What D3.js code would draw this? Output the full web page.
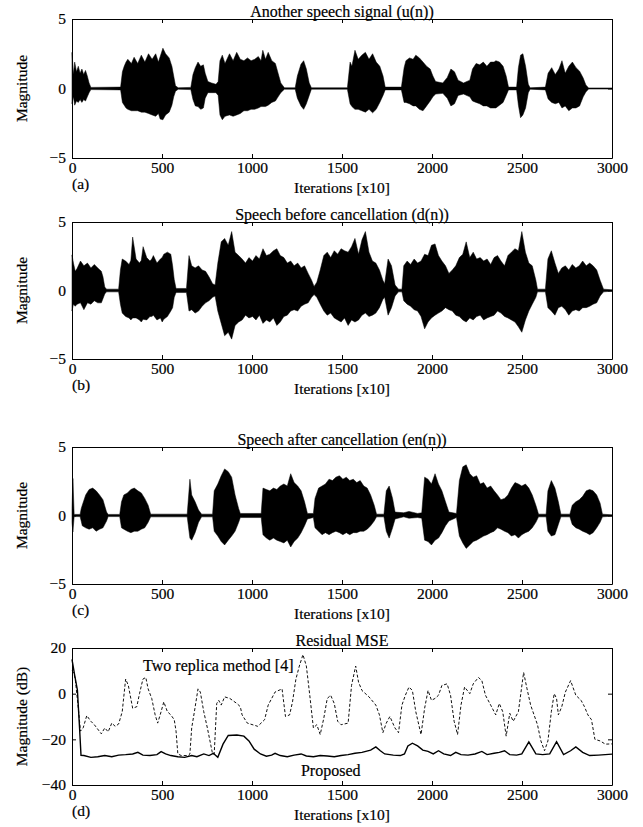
<!DOCTYPE html>
<html><head><meta charset="utf-8">
<script src="https://cdn.jsdelivr.net/npm/d3@7"></script>
<style>
body{margin:0;background:#fff}
</style></head><body>
<svg id="c" width="643" height="827"></svg>
<script>
// ---------- data ----------
const xTicks = [0, 500, 1000, 1500, 2000, 2500, 3000];
const sigTicks = [-5, 0, 5];
const mseTicks = [-40, -20, 0, 20];

// speech envelopes: [iteration/10, upper, lower]
const uEnvelope = [[0,2.6,-1.1],[8,1.0,-0.6],[15,1.9,-1.2],[25,1.2,-0.9],[35,1.6,-1.0],[45,1.1,-0.8],[55,1.4,-1.0],[65,1.0,-0.8],[75,1.3,-0.9],[85,0.9,-0.6],[95,0.4,-0.3],[105,0.08,-0.08],[270,0.1,-0.1],[280,1.2,-1.0],[290,1.6,-1.2],[300,1.9,-1.4],[310,2.1,-1.5],[330,1.8,-1.6],[345,2.25,-1.6],[365,1.8,-1.6],[385,2.4,-1.7],[405,1.9,-1.7],[425,2.5,-1.8],[445,2.1,-1.9],[465,2.5,-2.0],[480,1.9,-1.8],[490,2.3,-2.2],[505,2.9,-2.25],[520,2.5,-1.9],[540,2.2,-1.7],[555,1.6,-1.2],[565,0.9,-0.6],[575,0.2,-0.2],[590,0.05,-0.05],[660,0.08,-0.08],[672,1.0,-0.8],[685,1.5,-1.25],[700,1.9,-1.3],[715,1.6,-1.5],[730,1.7,-1.4],[740,1.1,-0.7],[755,0.5,-0.3],[775,0.4,-0.3],[800,0.3,-0.3],[812,0.5,-0.5],[822,2.0,-1.9],[835,2.4,-2.25],[850,1.8,-2.0],[875,2.5,-1.9],[895,2.0,-2.0],[915,2.6,-1.9],[935,2.1,-1.8],[955,2.0,-1.6],[975,2.2,-1.6],[995,2.0,-1.5],[1015,2.1,-1.5],[1035,2.3,-1.4],[1050,2.0,-1.3],[1060,2.75,-1.3],[1075,2.1,-1.3],[1090,2.6,-1.2],[1110,2.0,-1.0],[1130,1.8,-0.9],[1145,1.1,-0.6],[1160,0.4,-0.3],[1180,0.05,-0.05],[1240,0.05,-0.05],[1252,0.9,-0.7],[1272,1.75,-1.25],[1287,2.0,-1.5],[1302,1.4,-1.1],[1318,0.4,-0.5],[1330,0.05,-0.05],[1530,0.05,-0.05],[1545,1.9,-1.1],[1555,1.6,-1.3],[1572,2.75,-1.5],[1590,2.1,-1.5],[1610,2.4,-1.6],[1630,2.6,-1.7],[1650,2.1,-1.5],[1670,2.5,-1.75],[1690,1.9,-1.5],[1710,1.6,-1.0],[1728,0.9,-0.5],[1740,0.1,-0.1],[1830,0.1,-0.1],[1845,1.5,-1.0],[1855,2.0,-1.0],[1875,2.2,-1.1],[1895,2.1,-1.25],[1910,2.4,-1.25],[1930,2.2,-1.5],[1950,1.9,-1.6],[1970,1.6,-1.25],[1990,1.4,-0.9],[2005,0.9,-0.6],[2020,0.5,-0.4],[2060,0.4,-0.35],[2085,0.8,-0.7],[2105,1.4,-1.25],[2125,1.2,-1.1],[2145,0.6,-0.5],[2175,0.4,-0.4],[2210,0.6,-0.6],[2225,1.4,-0.9],[2245,1.8,-1.0],[2265,1.7,-1.1],[2285,1.9,-1.25],[2305,1.6,-1.25],[2325,1.9,-1.4],[2345,1.9,-1.4],[2355,2.0,-1.4],[2375,1.9,-1.2],[2395,1.6,-1.0],[2412,0.9,-0.5],[2425,0.1,-0.1],[2470,0.1,-0.1],[2480,1.5,-1.2],[2492,2.4,-2.1],[2505,2.5,-1.9],[2520,1.6,-1.4],[2535,0.3,-0.3],[2545,0.05,-0.05],[2630,0.1,-0.1],[2645,1.1,-0.75],[2665,1.5,-1.0],[2685,1.0,-1.1],[2705,1.4,-1.0],[2722,2.0,-1.4],[2740,1.1,-1.25],[2760,1.6,-1.6],[2780,1.9,-1.4],[2800,1.5,-1.4],[2820,1.25,-1.25],[2840,0.75,-0.6],[2855,0.25,-0.25],[2870,0.04,-0.04],[3000,0.04,-0.04]];

const dEnvelope = [[0,2.6,-1.5],[8,2.0,-1.0],[18,1.4,-1.15],[28,1.6,-1.0],[47,2.15,-0.9],[66,1.8,-1.4],[86,2.0,-0.9],[105,1.65,-1.0],[124,1.9,-0.75],[143,1.65,-0.9],[163,1.4,-0.9],[172,1.0,-0.6],[182,0.25,-0.25],[192,0.1,-0.1],[259,0.1,-0.1],[269,1.5,-1.0],[279,2.3,-1.65],[298,2.15,-1.9],[317,1.9,-2.0],[327,2.2,-2.15],[337,3.9,-2.0],[356,2.3,-2.0],[375,2.0,-2.15],[385,2.2,-2.3],[395,3.2,-2.1],[415,2.4,-2.15],[433,2.15,-1.9],[443,2.3,-1.9],[452,2.55,-1.8],[472,2.0,-2.15],[491,2.3,-2.0],[501,2.4,-2.3],[510,2.65,-2.1],[530,2.8,-1.9],[549,2.65,-1.5],[559,1.8,-1.25],[568,0.8,-0.5],[578,0.15,-0.15],[636,0.15,-0.15],[650,2.55,-1.5],[665,1.8,-1.4],[684,1.65,-1.65],[703,1.8,-1.5],[723,1.5,-1.15],[742,1.4,-0.9],[761,1.0,-0.75],[781,0.5,-0.5],[795,0.4,-0.4],[810,2.0,-1.5],[829,3.55,-2.4],[848,3.8,-3.3],[868,3.3,-3.05],[887,4.3,-3.55],[906,2.8,-2.55],[926,2.55,-2.3],[945,2.3,-2.15],[964,2.0,-1.8],[983,2.4,-2.0],[1003,2.15,-1.9],[1022,2.55,-2.15],[1041,2.3,-1.8],[1061,3.05,-2.4],[1080,2.55,-2.15],[1099,2.65,-2.3],[1119,2.9,-2.0],[1138,3.05,-2.55],[1157,2.55,-2.3],[1177,2.4,-1.9],[1196,2.0,-1.8],[1215,2.15,-1.5],[1234,1.8,-1.4],[1254,2.0,-1.5],[1273,1.65,-1.15],[1292,1.8,-1.0],[1312,1.25,-0.9],[1331,0.75,-0.5],[1345,0.3,-0.3],[1360,0.6,-0.5],[1379,1.5,-1.0],[1399,2.55,-1.5],[1418,2.8,-1.8],[1437,2.4,-1.65],[1457,2.9,-2.0],[1476,2.65,-2.15],[1495,3.05,-2.3],[1514,2.9,-2.0],[1534,2.8,-2.55],[1553,3.2,-2.15],[1572,3.8,-2.3],[1592,2.65,-2.15],[1611,3.7,-1.8],[1630,4.3,-1.65],[1650,2.8,-1.9],[1669,2.15,-1.8],[1688,2.0,-1.65],[1708,1.5,-1.25],[1727,0.75,-0.65],[1737,0.5,-0.5],[1756,2.3,-1.8],[1775,1.8,-1.25],[1795,0.4,-0.4],[1814,0.1,-0.1],[1833,0.1,-0.1],[1843,1.8,-0.75],[1862,2.15,-1.0],[1881,1.9,-1.15],[1901,2.3,-1.4],[1920,2.0,-1.5],[1939,2.15,-1.9],[1959,2.65,-2.8],[1978,2.55,-2.3],[1997,3.3,-2.0],[2017,3.4,-1.8],[2036,2.55,-1.65],[2055,2.15,-1.5],[2075,1.8,-1.25],[2094,1.25,-1.4],[2113,1.5,-1.5],[2132,1.8,-1.8],[2152,2.4,-1.9],[2171,2.65,-2.15],[2190,3.55,-2.3],[2210,2.4,-2.0],[2229,2.8,-2.15],[2248,2.3,-1.9],[2268,2.4,-1.8],[2287,2.15,-2.15],[2306,2.3,-2.0],[2326,1.9,-1.9],[2345,2.4,-1.8],[2364,2.55,-1.5],[2383,2.15,-1.65],[2403,1.8,-1.9],[2422,2.55,-2.0],[2441,2.8,-2.15],[2461,3.05,-2.3],[2480,2.9,-2.65],[2499,4.3,-3.05],[2519,2.8,-2.15],[2538,2.0,-1.5],[2557,1.8,-1.0],[2577,0.75,-0.5],[2586,0.1,-0.1],[2630,0.1,-0.1],[2644,2.3,-1.25],[2663,2.9,-1.5],[2683,2.0,-1.8],[2702,1.25,-1.25],[2721,1.65,-1.15],[2741,1.8,-1.4],[2760,1.5,-1.8],[2779,1.9,-1.5],[2799,1.65,-1.4],[2818,1.8,-1.5],[2837,2.15,-1.25],[2857,1.8,-1.25],[2876,2.0,-1.15],[2895,1.8,-1.0],[2915,1.5,-0.9],[2934,0.75,-0.4],[2953,0.1,-0.1],[3000,0.05,-0.05]];

const enEnvelope = [[0,0.5,-0.5],[5,2.7,-1.2],[12,0.08,-0.08],[45,0.08,-0.08],[51,0.5,-0.4],[57,0.75,-0.75],[76,1.5,-0.9],[95,1.9,-1.0],[115,2.0,-0.9],[134,1.8,-1.15],[153,1.5,-1.0],[172,1.15,-0.9],[192,0.25,-0.4],[201,0.08,-0.08],[265,0.08,-0.08],[275,1.0,-0.9],[288,1.5,-1.0],[308,1.65,-1.15],[327,1.9,-1.25],[346,2.0,-1.15],[366,1.8,-1.15],[385,1.65,-1.0],[404,1.25,-0.9],[423,0.75,-0.5],[437,0.1,-0.1],[640,0.1,-0.1],[655,2.65,-1.65],[665,1.5,-1.8],[684,1.0,-1.25],[703,0.4,-0.5],[720,0.1,-0.1],[781,0.1,-0.1],[790,1.8,-1.15],[810,2.3,-1.5],[829,2.9,-1.9],[848,3.4,-2.15],[868,3.2,-1.8],[887,2.8,-1.5],[906,1.5,-1.15],[926,0.5,-0.5],[935,0.15,-0.15],[1051,0.15,-0.15],[1061,2.0,-1.4],[1080,1.9,-1.65],[1099,1.8,-1.8],[1119,2.0,-1.65],[1138,1.9,-1.8],[1157,2.15,-1.9],[1177,2.3,-2.0],[1196,2.15,-1.8],[1215,3.05,-2.3],[1234,2.4,-1.9],[1254,2.15,-1.65],[1273,1.8,-1.25],[1292,1.0,-0.75],[1308,0.15,-0.25],[1341,0.15,-0.15],[1350,1.25,-0.9],[1370,2.0,-1.15],[1389,2.15,-1.4],[1408,2.3,-1.25],[1428,2.65,-1.4],[1447,2.55,-1.25],[1466,2.8,-1.15],[1486,2.9,-1.25],[1505,2.65,-1.4],[1524,2.8,-1.25],[1543,2.55,-1.4],[1563,2.65,-1.25],[1582,2.4,-1.25],[1601,2.55,-1.15],[1621,2.15,-1.15],[1640,2.0,-1.0],[1659,1.5,-0.75],[1679,0.75,-0.4],[1692,0.1,-0.1],[1733,0.1,-0.1],[1746,1.8,-1.15],[1762,2.15,-1.65],[1781,1.25,-0.9],[1795,0.25,-0.25],[1843,0.2,-0.1],[1872,0.3,-0.2],[1920,0.15,-0.15],[1943,0.2,-0.2],[1959,2.8,-1.8],[1978,2.65,-1.9],[1997,2.3,-2.15],[2017,3.05,-1.8],[2036,2.3,-1.65],[2055,1.8,-1.25],[2075,1.0,-0.75],[2094,0.25,-0.4],[2136,0.15,-0.15],[2152,2.55,-1.5],[2171,3.55,-2.0],[2190,3.7,-2.4],[2210,3.05,-2.15],[2229,2.8,-1.9],[2248,2.9,-1.8],[2268,2.3,-1.65],[2287,2.4,-1.5],[2306,2.0,-1.4],[2326,2.15,-1.25],[2345,1.8,-1.15],[2364,1.5,-0.9],[2383,1.15,-1.0],[2403,1.25,-1.15],[2422,1.5,-1.25],[2441,2.0,-1.5],[2461,2.4,-1.4],[2480,2.3,-1.65],[2499,2.15,-1.4],[2519,2.3,-1.25],[2538,2.0,-1.15],[2557,1.5,-0.9],[2577,0.75,-0.5],[2592,0.1,-0.1],[2634,0.1,-0.1],[2644,1.8,-1.15],[2663,2.55,-1.5],[2683,2.0,-1.4],[2702,1.0,-0.65],[2716,0.1,-0.1],[2766,0.1,-0.1],[2779,0.75,-0.65],[2799,1.0,-0.9],[2818,1.15,-1.0],[2837,1.4,-1.15],[2857,1.8,-1.25],[2876,1.9,-1.4],[2895,1.8,-1.25],[2915,1.5,-0.9],[2934,0.9,-0.5],[2947,0.1,-0.1],[3000,0.05,-0.05]];

// residual MSE in dB: [iteration/10, dB]
const twoReplicaMSE = [[0,10],[10,9],[18,6.5],[37,-7.9],[47,-16.4],[62,-15],[82,-9.6],[105,-12.1],[124,-13.6],[163,-17.6],[182,-15],[201,-16.7],[221,-12.9],[240,-14.3],[259,-13.3],[279,-7.9],[298,6.4],[313,3.6],[337,-6.4],[360,-5.7],[375,0],[394,6.4],[410,7.1],[423,2.1],[443,-2.1],[462,-9.3],[476,-12.9],[495,-7.9],[510,-3.6],[530,-7.9],[549,-9.3],[568,-11.4],[578,-16.4],[588,-26.4],[607,-27.1],[646,-27.1],[655,-26.4],[665,-15],[680,-7.9],[700,2.1],[713,0.7],[732,-7.9],[752,-15],[781,-26.4],[790,-26.4],[804,-4.3],[815,-2.9],[829,-5],[848,-1.4],[877,-2.1],[916,-4.3],[935,-5.7],[945,-9.3],[974,-12.9],[1032,-14.3],[1070,-11.4],[1090,-5],[1128,0.7],[1167,2.1],[1186,-10],[1209,-9.3],[1225,-3.6],[1244,6.4],[1263,12.1],[1283,17.1],[1302,12.1],[1321,-0.7],[1341,-15],[1360,-13.6],[1379,-17.9],[1399,-10.7],[1418,-2.1],[1437,-0.7],[1457,-4.3],[1476,-12.1],[1495,-13.6],[1534,-12.9],[1553,3.6],[1576,12.1],[1592,5],[1611,1.4],[1650,-1.4],[1688,-5],[1708,-9.3],[1727,-17.1],[1746,-12.9],[1766,-10],[1794,-15],[1814,-17.1],[1833,-5],[1852,-0.7],[1872,2.9],[1891,1.4],[1910,-7.9],[1939,-17.9],[1959,-6.4],[1978,1.4],[1997,-2.9],[2017,-2.1],[2036,-0.7],[2055,3.6],[2084,4.3],[2103,-0.7],[2123,-12.1],[2142,-17.9],[2161,-5],[2181,2.9],[2210,0],[2229,4.3],[2258,7.1],[2277,5.7],[2297,-0.7],[2326,-5],[2354,-9.3],[2374,-4.3],[2393,-7.9],[2412,-18.6],[2432,-8.6],[2451,-12.1],[2480,-7.9],[2509,9.3],[2528,2.1],[2548,-5],[2567,-9.3],[2586,-13.6],[2605,-20.7],[2625,-25],[2644,-20.7],[2663,-7.9],[2679,0],[2692,-2.1],[2702,-9.3],[2721,-5.7],[2741,0.7],[2770,5.7],[2799,-0.7],[2828,-2.9],[2847,-5.7],[2866,-9.3],[2886,-11.4],[2905,-20],[2934,-20.7],[2963,-22.1],[3000,-22]];

const proposedMSE = [[0,15],[15,8],[30,1.6],[42,-15],[50,-27],[66,-27.1],[105,-27.9],[143,-27.6],[182,-27.1],[221,-27.6],[259,-26.9],[298,-26.7],[337,-26.4],[366,-25.7],[394,-26.9],[433,-27.1],[472,-26.7],[495,-25.4],[520,-26.4],[549,-27.1],[588,-27.6],[626,-27.9],[665,-27.1],[694,-27.6],[732,-26.4],[761,-27.1],[785,-26.1],[810,-27.9],[839,-22.1],[868,-18.3],[916,-18.1],[955,-18.6],[983,-20.7],[1012,-24.3],[1047,-26.4],[1080,-27.4],[1109,-26.9],[1128,-26.1],[1157,-27.1],[1196,-27.6],[1234,-26.9],[1273,-26.4],[1302,-27.3],[1341,-27.6],[1379,-27.1],[1418,-27.3],[1457,-27.6],[1495,-27.1],[1534,-26.7],[1572,-26.1],[1611,-25.7],[1659,-24.7],[1688,-23.3],[1713,-25],[1737,-26.4],[1785,-26.9],[1824,-27.1],[1847,-26.4],[1866,-22.9],[1891,-21.7],[1920,-22.9],[1949,-24.7],[1978,-25.3],[2007,-26.4],[2036,-25],[2065,-26.4],[2103,-27.1],[2132,-25.7],[2161,-26.7],[2200,-26.9],[2239,-26.4],[2277,-25.3],[2306,-26.7],[2345,-26.1],[2374,-25.7],[2403,-25],[2432,-26.7],[2470,-26.9],[2499,-26.4],[2538,-21.1],[2577,-26.4],[2615,-26.7],[2654,-26.4],[2692,-21],[2731,-26.7],[2770,-25],[2799,-23.3],[2837,-25.7],[2876,-27.1],[2924,-26.9],[3000,-26.5]];

// ---------- layout ----------
const L = 72, R = 612, FS = 15.5, FT = 16;
const FONT = "'Liberation Serif','Times New Roman',serif";
const panels = [
  {top:19, bottom:158, title:"Another speech signal (u(n))", tag:"(a)", ylab:"Magnitude", env:uEnvelope},
  {top:222, bottom:359, title:"Speech before cancellation (d(n))", tag:"(b)", ylab:"Magnitude", env:dEnvelope},
  {top:447, bottom:584, title:"Speech after cancellation (en(n))", tag:"(c)", ylab:"Magnitude", env:enEnvelope},
  {top:648, bottom:785, title:"Residual MSE", tag:"(d)", ylab:"Magnitude (dB)", mse:true}
];

const svg = d3.select("#c");
const x = d3.scaleLinear().domain([0,3000]).range([L,R]);
const txt = (sel, size) => sel.attr("font-family", FONT).attr("font-size", size)
  .attr("fill","#000").attr("stroke","#000").attr("stroke-width",0.2);

panels.forEach(p => {
  const y = d3.scaleLinear().domain(p.mse ? [-40,20] : [-5,5]).range([p.bottom,p.top]);
  const yT = p.mse ? mseTicks : sigTicks;
  const g = svg.append("g");

  if (!p.mse) {
    const area = d3.area().x(d=>x(d[0])).y0(d=>y(d[2])).y1(d=>y(d[1]));
    g.append("path").datum(p.env).attr("d", area).attr("fill","#000").attr("stroke","#000").attr("stroke-width",0.5);
  } else {
    const line = d3.line().x(d=>x(d[0])).y(d=>y(d[1]));
    g.append("path").datum(twoReplicaMSE).attr("d", line).attr("fill","none")
      .attr("stroke","#111").attr("stroke-width",1).attr("stroke-dasharray","3,2");
    g.append("path").datum(proposedMSE).attr("d", line).attr("fill","none")
      .attr("stroke","#000").attr("stroke-width",1.4);
    g.append("text").attr("x", x(395)).attr("y", y(10)).call(txt, FT).text("Two replica method [4]");
    g.append("text").attr("x", x(1272)).attr("y", y(-36)).call(txt, FT).text("Proposed");
  }

  const styleAxis = sel => { sel.attr("font-family",FONT).attr("font-size",FS);
    sel.select(".domain").attr("stroke","#000");
    sel.selectAll(".tick line").attr("stroke","#000");
    sel.selectAll(".tick text").attr("fill","#000").attr("stroke","#000").attr("stroke-width",0.2); };
  g.append("g").attr("transform",`translate(0,${p.bottom})`)
    .call(d3.axisBottom(x).tickValues(xTicks).tickSize(-4).tickSizeOuter(0).tickPadding(4).tickFormat(d3.format("d")))
    .call(styleAxis);
  g.append("g").attr("transform",`translate(0,${p.top})`)
    .call(d3.axisTop(x).tickValues(xTicks).tickSize(-4).tickSizeOuter(0).tickFormat(""))
    .call(styleAxis);
  g.append("g").attr("transform",`translate(${L},0)`)
    .call(d3.axisLeft(y).tickValues(yT).tickSize(-4).tickSizeOuter(0).tickPadding(6).tickFormat(d3.format("d")))
    .call(styleAxis);
  g.append("g").attr("transform",`translate(${R},0)`)
    .call(d3.axisRight(y).tickValues(yT).tickSize(-4).tickSizeOuter(0).tickFormat(""))
    .call(styleAxis);

  g.append("text").attr("x",(L+R)/2).attr("y",p.top-2).attr("text-anchor","middle").call(txt, FT).text(p.title);
  g.append("text").attr("x",(L+R)/2).attr("y",p.bottom+35).attr("text-anchor","middle").call(txt, FS).text("Iterations [x10]");
  g.append("text").attr("x",L).attr("y",p.bottom+31).call(txt, FS).text(p.tag);
  g.append("text").attr("transform",`translate(27,${(p.top+p.bottom)/2}) rotate(-90)`)
    .attr("text-anchor","middle").call(txt, FS).text(p.ylab);
});
</script>
</body></html>
